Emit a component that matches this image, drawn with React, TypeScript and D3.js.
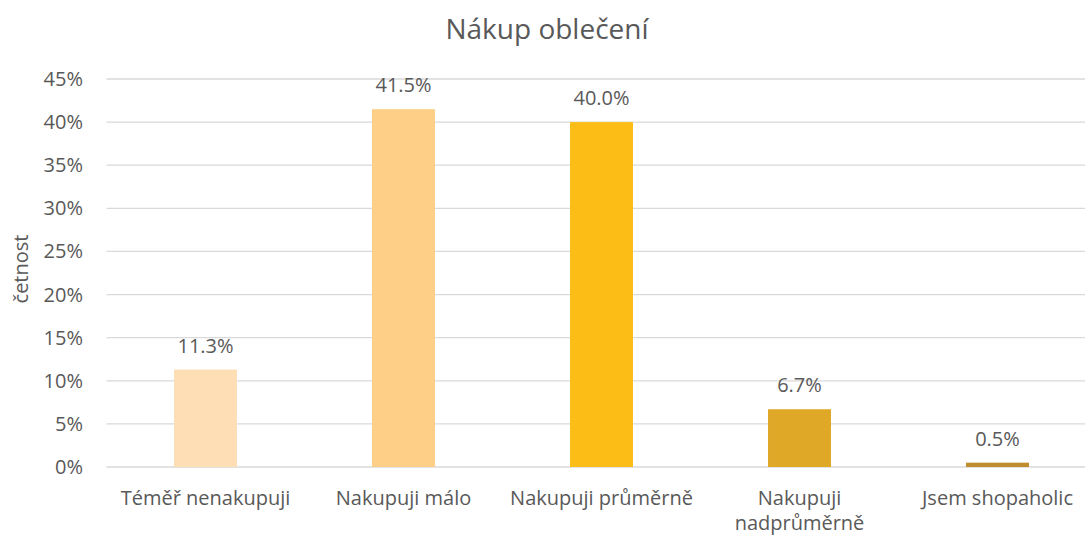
import React from "react";
import * as d3 from "d3";

const title = "Nákup oblečení";
const yAxisTitle = "četnost";
const categories = [
  "Téměř nenakupuji",
  "Nakupuji málo",
  "Nakupuji průměrně",
  "Nakupuji nadprůměrně",
  "Jsem shopaholic",
];
const values = [11.3, 41.5, 40.0, 6.7, 0.5];
const barColors = ["#FDDEB5", "#FECF87", "#FCBE16", "#E0A827", "#BF8D2E"];
const yTicks = [0, 5, 10, 15, 20, 25, 30, 35, 40, 45];

const W = 1085;
const H = 537;
const FONT = "'Open Sans', 'Noto Sans', sans-serif";
const TEXT = "#595959";

function measure(text: string, size: number): number {
  const c = document.createElement("canvas").getContext("2d");
  if (!c) return text.length * size * 0.55;
  c.font = `${size}px 'Open Sans'`;
  return c.measureText(text).width;
}

function wrap(text: string, maxW: number, size: number): string[] {
  const words = text.split(" ");
  const lines: string[] = [];
  let cur = "";
  for (const w of words) {
    const t = cur ? cur + " " + w : w;
    if (cur && measure(t, size) > maxW) {
      lines.push(cur);
      cur = w;
    } else cur = t;
  }
  if (cur) lines.push(cur);
  return lines;
}

export default function App() {
  const plotLeft = 106.5;
  const plotRight = 1096.5;
  const plotTop = 79;
  const plotBottom = 467;
  const x = d3
    .scaleBand<string>()
    .domain(categories)
    .range([plotLeft, plotRight])
    .paddingInner(0.682)
    .paddingOuter(0.341);
  const y = d3.scaleLinear().domain([0, 45]).range([plotBottom, plotTop]);
  const fs = 20;
  const fmt = (v: number) => `${v.toFixed(1)}%`;

  return (
    <svg
      width={W}
      height={H}
      style={{ position: "absolute", left: 0, top: 0, display: "block", background: "#fff" }}
      fontFamily={FONT}
    >
      <text x={547} y={39} textAnchor="middle" fontSize={28} fill={TEXT}>
        {title}
      </text>
      {yTicks.map((t) => (
        <g key={t}>
          <line x1={plotLeft} x2={W} y1={y(t)} y2={y(t)} stroke="#D9D9D9" strokeWidth={1.3} />
          <text x={83} y={y(t)} dy="0.35em" textAnchor="end" fontSize={fs} fill={TEXT}>
            {`${t}%`}
          </text>
        </g>
      ))}
      <text
        transform={`translate(${28},${(plotTop + plotBottom) / 2 - 4}) rotate(-90)`}
        textAnchor="middle"
        fontSize={fs}
        fill={TEXT}
      >
        {yAxisTitle}
      </text>
      {categories.map((c, i) => {
        const bx = x(c) as number;
        const cx = bx + x.bandwidth() / 2;
        const lines = wrap(c, x.step(), fs);
        return (
          <g key={c}>
            <rect
              x={bx}
              y={y(values[i])}
              width={x.bandwidth()}
              height={y(0) - y(values[i])}
              fill={barColors[i]}
            />
            <text x={cx} y={y(values[i]) - 17} textAnchor="middle" fontSize={fs} fill={TEXT}>
              {fmt(values[i])}
            </text>
            {lines.map((ln, j) => (
              <text key={j} x={cx} y={505 + j * 25} textAnchor="middle" fontSize={fs} fill={TEXT}>
                {ln}
              </text>
            ))}
          </g>
        );
      })}
    </svg>
  );
}
